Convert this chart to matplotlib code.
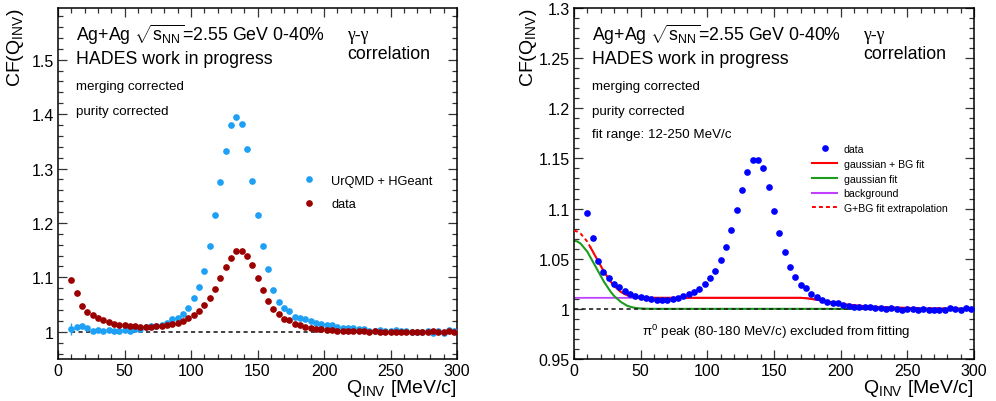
import numpy as np
import matplotlib
matplotlib.use("Agg")
import matplotlib.pyplot as plt
from matplotlib.ticker import MultipleLocator, FuncFormatter
from matplotlib.lines import Line2D

plt.rcParams['font.family'] = ['Liberation Sans', 'DejaVu Sans']
plt.rcParams['mathtext.fontset'] = 'custom'
plt.rcParams['mathtext.rm'] = 'Liberation Sans'
plt.rcParams['mathtext.it'] = 'Liberation Sans'
plt.rcParams['mathtext.bf'] = 'Liberation Sans:bold'

# bin centres [MeV/c]
q_bins = [10, 14, 18, 22, 26, 30, 34, 38, 42, 46,
          50, 54, 58, 62, 66, 70, 74, 78, 82, 86,
          90, 94, 98, 102, 106, 110, 114, 118, 122, 126,
          130, 134, 138, 142, 146, 150, 154, 158, 162, 166,
          170, 174, 178, 182, 186, 190, 194, 198, 202, 206,
          210, 214, 218, 222, 226, 230, 234, 238, 242, 246,
          250, 254, 258, 262, 266, 270, 274, 278, 282, 286,
          290, 294, 298]

# UrQMD + HGeant correlation function
urqmd_cf = [1.006, 1.008, 1.010, 1.007, 1.002, 1.003, 1.001, 1.004, 1.002, 1.002,
            1.004, 1.001, 1.006, 1.006, 1.008, 1.010, 1.011, 1.013, 1.017, 1.023,
            1.025, 1.032, 1.044, 1.062, 1.083, 1.111, 1.157, 1.214, 1.275, 1.333,
            1.380, 1.395, 1.381, 1.336, 1.277, 1.214, 1.157, 1.115, 1.077, 1.054,
            1.044, 1.039, 1.027, 1.025, 1.023, 1.020, 1.017, 1.015, 1.013, 1.012,
            1.009, 1.007, 1.007, 1.007, 1.006, 1.005, 1.002, 1.002, 1.004, 1.001,
            1.002, 1.004, 1.001, 1.002, 1.000, 1.000, 0.999, 1.001, 0.997, 1.001,
            0.998, 1.003, 1.002]
urqmd_err = [0.011] + [0.0] * 72

# measured correlation function (Ag+Ag)
data_cf = [1.096, 1.071, 1.048, 1.037, 1.031, 1.025, 1.022, 1.018, 1.015, 1.013,
           1.012, 1.011, 1.010, 1.009, 1.009, 1.009, 1.010, 1.011, 1.013, 1.015,
           1.017, 1.020, 1.025, 1.031, 1.038, 1.049, 1.062, 1.079, 1.099, 1.119,
           1.136, 1.148, 1.148, 1.140, 1.122, 1.098, 1.076, 1.057, 1.042, 1.032,
           1.024, 1.021, 1.015, 1.012, 1.009, 1.007, 1.006, 1.006, 1.004, 1.003,
           1.002, 1.002, 1.002, 1.002, 1.001, 1.001, 1.000, 1.001, 1.000, 0.999,
           1.000, 1.000, 0.999, 1.000, 0.999, 0.999, 0.999, 0.999, 1.001, 1.000,
           0.999, 1.001, 1.000]

# fit curves
fit_q = [0, 2.5, 5, 7.5, 10, 12.5, 15, 17.5, 20, 22.5,
         25, 27.5, 30, 32.5, 35, 37.5, 40, 42.5, 45, 47.5,
         50, 55, 60, 70, 80, 90, 100, 110, 120, 130,
         140, 150, 160, 170, 175, 180, 185, 190, 195, 200,
         205, 210, 215, 220, 225, 230, 235, 240, 245, 250,
         255, 260, 265, 270, 275, 280, 285, 290, 295, 300]
gauss_fit = [1.068, 1.0672, 1.065, 1.061, 1.057, 1.051, 1.045, 1.039, 1.033, 1.027,
             1.022, 1.017, 1.013, 1.010, 1.007, 1.005, 1.003, 1.002, 1.0012, 1.0007,
             1.0004, 1.0001, 1.0, 1.0, 1.0, 1.0, 1.0, 1.0, 1.0, 1.0,
             1.0, 1.0, 1.0, 1.0, 1.0, 1.0, 1.0, 1.0, 1.0, 1.0,
             1.0, 1.0, 1.0, 1.0, 1.0, 1.0, 1.0, 1.0, 1.0, 1.0,
             1.0, 1.0, 1.0, 1.0, 1.0, 1.0, 1.0, 1.0, 1.0, 1.0]
bg_fit = [1.011, 1.011, 1.011, 1.011, 1.011, 1.011, 1.011, 1.011, 1.011, 1.011,
          1.011, 1.011, 1.011, 1.011, 1.011, 1.011, 1.011, 1.011, 1.011, 1.011,
          1.011, 1.011, 1.011, 1.011, 1.011, 1.011, 1.011, 1.011, 1.011, 1.011,
          1.011, 1.011, 1.011, 1.011, 1.0105, 1.0095, 1.0085, 1.0072, 1.006, 1.005,
          1.0042, 1.0035, 1.003, 1.0025, 1.0021, 1.0018, 1.0015, 1.0013, 1.0011, 1.001,
          1.0009, 1.0008, 1.0007, 1.0006, 1.0005, 1.0004, 1.0003, 1.0003, 1.0002, 1.0002]
gbg_fit = [1.078, 1.077, 1.075, 1.071, 1.067, 1.061, 1.055, 1.049, 1.043, 1.037,
           1.032, 1.027, 1.023, 1.020, 1.017, 1.015, 1.0135, 1.0125, 1.0118, 1.0114,
           1.0112, 1.011, 1.011, 1.011, 1.011, 1.011, 1.011, 1.011, 1.011, 1.011,
           1.011, 1.011, 1.011, 1.011, 1.0105, 1.0095, 1.0085, 1.0072, 1.006, 1.005,
           1.0042, 1.0035, 1.003, 1.0025, 1.0021, 1.0018, 1.0015, 1.0013, 1.0011, 1.001,
           1.0009, 1.0008, 1.0007, 1.0006, 1.0005, 1.0004, 1.0003, 1.0003, 1.0002, 1.0002]
fit_lo, fit_hi = 12.5, 250   # solid part of the G+BG curve

col_urqmd = '#1ea0f5'
col_data = '#9b0000'
col_blue = '#0000ff'
col_red = '#ff0000'
col_green = '#1c9c1c'
col_bg = '#c040ff'

TXT_BIG = 12.8
TXT_SMALL = 9.6
TICK = 11.5
LABEL = 14


def style_axes(ax, ylim, ymajor, yminor):
    ax.set_xlim(0, 300)
    ax.set_ylim(*ylim)
    ax.xaxis.set_major_locator(MultipleLocator(50))
    ax.xaxis.set_minor_locator(MultipleLocator(10))
    ax.yaxis.set_major_locator(MultipleLocator(ymajor))
    ax.yaxis.set_minor_locator(MultipleLocator(yminor))
    ax.yaxis.set_major_formatter(FuncFormatter(lambda v, p: f'{v:g}'))
    ax.tick_params(which='both', direction='in', top=True, right=True,
                   labelsize=TICK, width=0.9, color='#333333')
    ax.tick_params(which='major', length=6.5, pad=3)
    ax.tick_params(which='minor', length=3.3)
    for s in ax.spines.values():
        s.set_linewidth(1.1)
    ax.set_xlabel(r'Q$_{\mathrm{INV}}$ [MeV/c]', fontsize=LABEL, loc='right')
    ax.set_ylabel(r'CF(Q$_{\mathrm{INV}}$)', fontsize=LABEL, loc='top')
    ax.xaxis.set_label_coords(1.0, -0.05)
    ax.yaxis.set_label_coords(-0.08, 1.0)


def header(ax, x0, extra=None):
    ax.text(x0, 0.925, r'Ag+Ag $\sqrt{s_{NN}}$=2.55 GeV 0-40%', transform=ax.transAxes,
            fontsize=TXT_BIG, va='center')
    ax.text(x0, 0.857, 'HADES work in progress', transform=ax.transAxes,
            fontsize=TXT_BIG, va='center')
    ax.text(x0, 0.778, 'merging corrected', transform=ax.transAxes,
            fontsize=TXT_SMALL, va='center')
    ax.text(x0, 0.707, 'purity corrected', transform=ax.transAxes,
            fontsize=TXT_SMALL, va='center')
    if extra:
        ax.text(x0, 0.641, extra, transform=ax.transAxes,
                fontsize=TXT_SMALL, va='center')


fig = plt.figure(figsize=(9.96, 4.02), dpi=100)
ax1 = fig.add_axes([58 / 996, 42 / 402, 399 / 996, 351 / 402])
ax2 = fig.add_axes([574 / 996, 42 / 402, 400 / 996, 351 / 402])

# ---- left panel: data vs UrQMD ----
style_axes(ax1, (0.95, 1.595), 0.1, 0.02)
ax1.hlines(1.0, 10, 300, colors='#222222', linestyles=(0, (2.5, 2)), linewidth=1.2, zorder=1)
ax1.errorbar(q_bins, urqmd_cf, yerr=urqmd_err, fmt='o', ms=3.8, color=col_urqmd,
             elinewidth=1.0, capsize=0, label='UrQMD + HGeant', zorder=3)
ax1.plot(q_bins, data_cf, 'o', ms=3.8, color=col_data, label='data', zorder=4)
header(ax1, 0.045)
ax1.text(0.725, 0.925, 'γ-γ', transform=ax1.transAxes, fontsize=TXT_BIG,
         family=['Liberation Serif', 'DejaVu Serif'], va='center')
ax1.text(0.725, 0.87, 'correlation', transform=ax1.transAxes, fontsize=TXT_BIG, va='center')
h1 = [Line2D([], [], ls='none', marker='o', ms=3.8, color=col_urqmd),
      Line2D([], [], ls='none', marker='o', ms=3.8, color=col_data)]
ax1.legend(h1, ['UrQMD + HGeant', 'data'], loc='upper left', bbox_to_anchor=(0.605, 0.525),
           frameon=False, fontsize=9.2, handlelength=1.5, handletextpad=1.0,
           labelspacing=0.9, borderpad=0, borderaxespad=0)

# ---- right panel: fit ----
style_axes(ax2, (0.95, 1.3), 0.05, 0.01)
ax2.yaxis.set_label_coords(-0.088, 1.0)
fit_q_arr = np.array(fit_q)
gbg_arr = np.array(gbg_fit)
inside = (fit_q_arr >= fit_lo) & (fit_q_arr <= fit_hi)
ax2.plot(fit_q, bg_fit, color=col_bg, lw=1.3, zorder=2)
ax2.plot(fit_q, gauss_fit, color=col_green, lw=1.5, zorder=2)
ax2.hlines(1.0, 0, 300, colors='#222222', linestyles=(0, (2.5, 2)), linewidth=1.2, zorder=2.5)
ax2.plot(fit_q_arr[fit_q_arr <= fit_lo], gbg_arr[fit_q_arr <= fit_lo], color=col_red,
         lw=1.4, ls=(0, (2, 1.6)), zorder=3)
ax2.plot(fit_q_arr[fit_q_arr >= fit_hi], gbg_arr[fit_q_arr >= fit_hi], color=col_red,
         lw=1.4, ls=(0, (2, 1.6)), zorder=3)
ax2.plot(fit_q_arr[inside], gbg_arr[inside], color=col_red, lw=1.5, zorder=3)
ax2.plot(q_bins, data_cf, 'o', ms=3.8, color=col_blue, zorder=4)
header(ax2, 0.045, 'fit range: 12-250 MeV/c')
ax2.text(0.722, 0.925, 'γ-γ', transform=ax2.transAxes, fontsize=TXT_BIG,
         family=['Liberation Serif', 'DejaVu Serif'], va='center')
ax2.text(0.722, 0.87, 'correlation', transform=ax2.transAxes, fontsize=TXT_BIG, va='center')
ax2.text(0.505, 0.08, 'π$^{0}$ peak (80-180 MeV/c) excluded from fitting', transform=ax2.transAxes,
         fontsize=TXT_SMALL, ha='center', va='center')
h2 = [Line2D([], [], ls='none', marker='o', ms=3.8, color=col_blue),
      Line2D([], [], color=col_red, lw=1.5),
      Line2D([], [], color=col_green, lw=1.5),
      Line2D([], [], color=col_bg, lw=1.5),
      Line2D([], [], color=col_red, lw=1.4, ls=(0, (2, 1.6)))]
ax2.legend(h2, ['data', 'gaussian + BG fit', 'gaussian fit', 'background',
                'G+BG fit extrapolation'],
           loc='upper left', bbox_to_anchor=(0.595, 0.612), frameon=False, fontsize=7.6,
           handlelength=2.4, handletextpad=0.6, labelspacing=0.45, borderpad=0,
           borderaxespad=0)

fig.savefig('out.png', dpi=100)
